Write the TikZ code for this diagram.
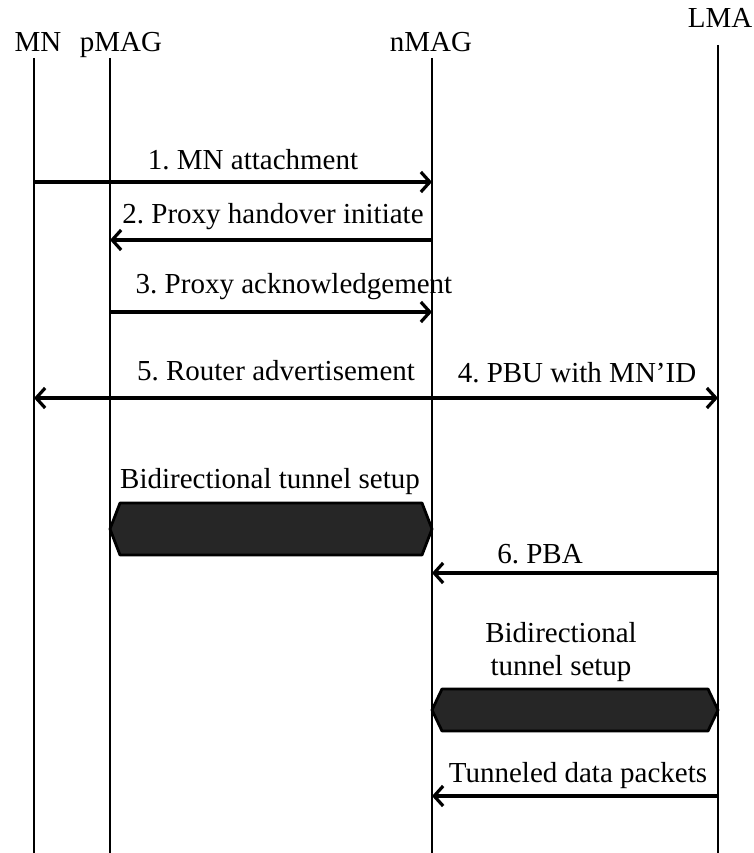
\documentclass[tikz,border=0pt]{standalone}
\usepackage{fontspec}
\setmainfont{Liberation Serif}
\usetikzlibrary{arrows.meta}
\frenchspacing

\tikzset{
  lifeline/.style={line width=2.6pt},
  msg/.style={line width=3.2pt,-{Straight Barb[length=9pt,width=20pt]}},
  lbl/.style={inner sep=0pt,anchor=base,font=\fontsize{29}{33}\selectfont},
  tunnelbox/.style={draw=black,line width=2.8pt,fill=black!85,line join=round}
}

\begin{document}
\begin{tikzpicture}[x=1pt,y=-1pt]
\useasboundingbox (0,0) rectangle (754,853);
% entities
\node[lbl] (mnL) at (38,52) {MN};
\node[lbl] (pmagL) at (121,52) {pMAG};
\node[lbl] (nmagL) at (431,52) {nMAG};
\node[lbl] (lmaL) at (720,28) {LMA};
% lifelines
\coordinate (mnT) at (34,58);   \coordinate (mnB) at (34,853);
\coordinate (pmagT) at (110,58); \coordinate (pmagB) at (110,853);
\coordinate (nmagT) at (432,58); \coordinate (nmagB) at (432,853);
\coordinate (lmaT) at (718,45);  \coordinate (lmaB) at (718,853);
\draw[lifeline] (mnT)--(mnB);
\draw[lifeline] (pmagT)--(pmagB);
\draw[lifeline] (nmagT)--(nmagB);
\draw[lifeline] (lmaT)--(lmaB);
% message heights
\coordinate (m1) at (0,182);
\coordinate (m2) at (0,240);
\coordinate (m3) at (0,312);
\coordinate (m4) at (0,398);
\coordinate (m6) at (0,573);
\coordinate (m7) at (0,796);
% messages
\node[lbl] (t1) at (253,170) {1. MN attachment};
\draw[msg] (mnT |- m1)--(nmagT |- m1);
\node[lbl] (t2) at (273,223) {2. Proxy handover initiate};
\draw[msg] (nmagT |- m2)--(pmagT |- m2);
\node[lbl] (t3) at (294,293) {3. Proxy acknowledgement};
\draw[msg] (pmagT |- m3)--(nmagT |- m3);
\node[lbl] (t5) at (276,380) {5. Router advertisement};
\node[lbl] (t4) at (577,382) {4. PBU with MN’ID};
\draw[msg] (nmagT |- m4)--(mnT |- m4);
\draw[msg] (nmagT |- m4)--(lmaT |- m4);
% tunnel pMAG - nMAG
\node[lbl] (t8) at (270,488) {Bidirectional tunnel setup};
\draw[tunnelbox] (120,503)--(422,503)--(432,529)--(422,555)--(120,555)--(110,529)--cycle;
\node[lbl] (t6) at (540,563) {6. PBA};
\draw[msg] (lmaT |- m6)--(nmagT |- m6);
% tunnel nMAG - LMA
\node[lbl,anchor=center,align=center] (t9) at (561,652) {Bidirectional\\tunnel setup};
\draw[tunnelbox] (442,689)--(708,689)--(718,710)--(708,731)--(442,731)--(432,710)--cycle;
\node[lbl] (t7) at (578,782) {Tunneled data packets};
\draw[msg] (lmaT |- m7)--(nmagT |- m7);
\end{tikzpicture}
\end{document}
